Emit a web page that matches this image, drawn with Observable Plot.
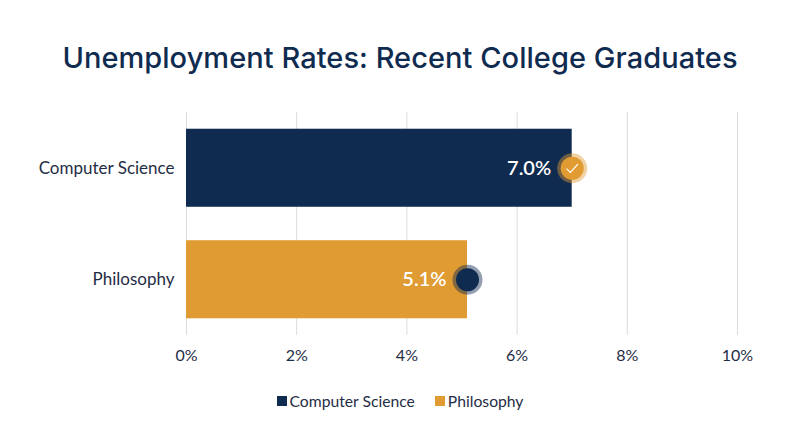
<!DOCTYPE html>
<html>
<head>
<meta charset="utf-8">
<script src="https://cdn.jsdelivr.net/npm/d3@7"></script>
<script src="https://cdn.jsdelivr.net/npm/@observablehq/plot@0.6"></script>
<style>
html,body{margin:0;padding:0;background:#fff;width:800px;height:447px;overflow:hidden;font-family:Lato,sans-serif}
#title{height:100px;box-sizing:border-box;padding-top:40px;text-align:center;font:500 29px/36px Inter,sans-serif;color:#0f2b50;letter-spacing:0.05px;white-space:nowrap}
#chart svg{display:block}
#legend{display:flex;justify-content:center;align-items:center;gap:20px;margin-top:27px;font:15.7px/18px Lato,sans-serif;color:#1f2d45}
#legend span{display:flex;align-items:center;gap:3px}
#legend i{display:block;width:10px;height:10px}
</style>
</head>
<body>
<div id="title">Unemployment Rates: Recent College Graduates</div>
<div id="chart"></div>
<div id="legend"></div>
<script>
const categories = ["Computer Science", "Philosophy"];
const rates = [7.0, 5.1];
const rateLabels = ["7.0%", "5.1%"];
const barColors = ["#0f2b50", "#e09c33"];
const markerColors = ["#e09c33", "#0f2b50"];
const xTicks = [0, 2, 4, 6, 8, 10];

const rows = categories.map((c, i) => ({c, v: rates[i], label: rateLabels[i], bar: barColors[i], marker: markerColors[i]}));

const checkGlyph = {
  draw(ctx, size) {
    const s = Math.sqrt(size) / 14;
    ctx.moveTo(-5 * s, 0.3 * s);
    ctx.lineTo(-1.6 * s, 3.6 * s);
    ctx.lineTo(5 * s, -3.6 * s);
  }
};

const plot = Plot.plot({
  width: 800,
  height: 265,
  marginTop: 12,
  marginBottom: 30,
  marginLeft: 186,
  marginRight: 63,
  style: {background: "transparent", fontFamily: "Lato, sans-serif"},
  x: {domain: [0, 10], ticks: xTicks},
  y: {domain: categories, paddingInner: 0.3, paddingOuter: 0.15, round: false},
  marks: [
    Plot.gridX(xTicks, {stroke: "#dcdcdc", strokeOpacity: 1, strokeWidth: 1}),
    Plot.axisX(xTicks, {tickSize: 0, tickPadding: 14, tickFormat: d => d + "%", fontSize: 16, color: "#1f2d45", label: null}),
    Plot.axisY(categories, {tickSize: 0, tickPadding: 12, fontSize: 17, color: "#1f2d45", label: null}),
    Plot.barX(rows, {x: "v", y: "c", fill: d => d.bar}),
    Plot.text(rows, {x: "v", y: "c", text: "label", textAnchor: "end", dx: -21, fill: "#fff", fontSize: 20, fontWeight: 600}),
    Plot.dot(rows, {x: "v", y: "c", r: 15, fill: d => d.marker, fillOpacity: 0.45}),
    Plot.dot(rows, {x: "v", y: "c", r: 11.5, fill: d => d.marker}),
    Plot.dot(rows.filter(d => d.c === "Computer Science"), {x: "v", y: "c", r: 9, symbol: checkGlyph, fill: "none", stroke: "#fff", strokeWidth: 1.2})
  ]
});
document.getElementById("chart").append(plot);

const legend = d3.select("#legend");
categories.forEach((c, i) => {
  const item = legend.append("span");
  item.append("i").style("background", barColors[i]);
  item.append("b").style("font-weight", 400).text(c);
});
</script>
</body>
</html>
